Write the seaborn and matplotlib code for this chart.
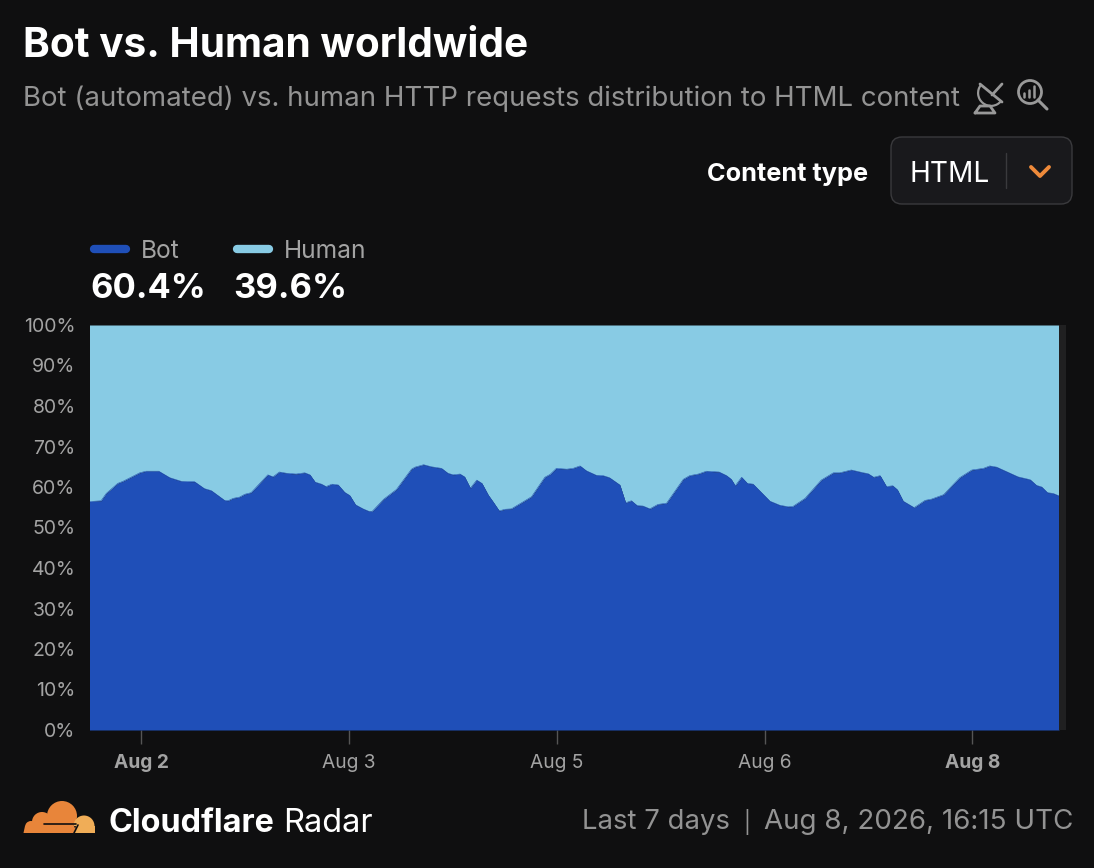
import numpy as np
import pandas as pd
import matplotlib
matplotlib.use("Agg")
import matplotlib.pyplot as plt
from matplotlib.patches import FancyBboxPatch, Circle, Polygon, Wedge
import seaborn as sns

hours = [0,2.0,2.9,4.9,5.8,8.7,9.8,12.0,13.9,15.9,18.2,19.9,21.1,23.4,24.0,24.9,26.0,26.9,28.0,30.9,31.8,32.9,34.1,35.8,37.3,38.2,39.1,40.2,41.0,42.0,43.1,44.2,45.1,46.1,47.4,48.4,49.0,51.0,53.2,54.6,55.8,56.4,57.9,59.2,61.0,62.1,63.0,64.2,65.0,66.0,67.1,68.0,69.1,69.9,71.0,72.0,73.1,75.1,76.6,78.9,79.8,80.9,82.7,83.8,85.0,
         86.1,87.8,89.0,90.1,91.9,92.9,93.9,94.9,95.9,97.1,98.5,100.0,102.9,104.0,105.5,106.9,109.1,110.4,111.2,111.9,113.0,114.0,115.0,117.9,119.6,121.1,121.9,124.0,126.8,128.9,130.0,132.0,134.1,134.9,135.9,137.0,138.1,139.2,140.0,141.0,142.9,144.8,145.9,148.0,150.8,152.9,154.9,156.0,157.2,160.9,163.0,164.1,165.0,166.0,167.0,168.0]
bot = [56.4,56.6,58.4,60.9,61.4,63.5,63.9,63.9,62.3,61.4,61.3,59.6,59.1,56.7,56.6,57.2,57.5,58.2,58.6,63.0,62.5,63.7,63.4,63.2,63.5,63.0,61.2,60.7,60.1,60.7,60.5,58.7,57.9,55.6,54.6,54.0,54.0,57.0,59.4,62.1,64.4,64.9,65.5,65.0,64.6,63.4,63.0,63.2,62.5,59.7,61.7,60.9,58.0,56.4,54.1,54.5,54.6,56.3,57.6,62.4,63.1,64.6,64.4,64.6,65.2,
       64.0,62.9,62.8,62.3,60.5,56.1,56.6,55.4,55.3,54.6,55.7,56.0,61.9,62.8,63.2,63.9,63.7,62.8,61.9,60.3,62.4,60.9,60.7,56.5,55.5,55.1,55.2,57.2,61.7,63.5,63.5,64.2,63.5,63.3,62.4,62.8,60.1,60.3,59.3,56.5,54.9,56.7,57.0,58.1,62.3,64.2,64.6,65.2,64.9,62.5,61.8,60.4,60.0,58.6,58.4,57.8]
tick_labels = ["Aug 2", "Aug 3", "Aug 5", "Aug 6", "Aug 8"]
tick_hours = [9, 45, 81, 117, 153]
bold_ticks = ["Aug 2", "Aug 8"]
y_ticks = list(range(0, 101, 10))
series_names = ["Bot", "Human"]
summary = ["60.4%", "39.6%"]

BG = "#0f0f10"
BLUE = "#1f4fb8"
LIGHT = "#88cbe4"
GREY = "#a3a3a3"
MUTED = "#939393"
W, H = 1094, 868

sns.set_theme(style="dark")
plt.rcParams["font.family"] = ["Inter", "DejaVu Sans"]

fig = plt.figure(figsize=(W/100, H/100), dpi=100, facecolor=BG)
ax = fig.add_axes([89.5/W, 1-730/H, 969.5/W, 405/H], facecolor=BG)

df = pd.DataFrame({"hour": hours, "Bot": bot})
df["Human"] = 100 - df["Bot"]
sns.lineplot(data=df, x="hour", y="Bot", ax=ax, color=BLUE, linewidth=0.4, zorder=3)
ax.fill_between(df["hour"], 0, df["Bot"], color=BLUE, linewidth=0, zorder=2)
ax.fill_between(df["hour"], df["Bot"], df["Bot"] + df["Human"], color=LIGHT, linewidth=0, zorder=1)
ax.set_xlim(0, 168)
ax.set_ylim(0, 100)
ax.set_xlabel("")
ax.set_ylabel("")
ax.grid(False)
for s in ax.spines.values():
    s.set_visible(False)
ax.set_yticks(y_ticks)
ax.set_yticklabels([f"{v}%" for v in y_ticks], color=GREY, fontsize=14)
ax.tick_params(axis="y", length=0, pad=10)
ax.set_xticks(tick_hours)
ax.set_xticklabels(tick_labels, color=GREY, fontsize=13.8)
for lab in ax.get_xticklabels():
    if lab.get_text() in bold_ticks:
        lab.set_fontweight("bold")
ax.tick_params(axis="x", length=10, width=1, color="#555555", pad=7, bottom=True)

# page furniture in pixel coordinates
ui = fig.add_axes([0, 0, 1, 1], facecolor="none", zorder=5)
ui.set_xlim(0, W)
ui.set_ylim(H, 0)
ui.axis("off")

ui.add_patch(plt.Rectangle((1059, 325), 7, 405, facecolor="#202021", edgecolor="none"))

ui.text(23, 46, "Bot vs. Human worldwide", color="white", fontsize=29.2, fontweight="bold", va="center", ha="left")
ui.text(23, 99, "Bot (automated) vs. human HTTP requests distribution to HTML content",
        color=MUTED, fontsize=19.9, va="center", ha="left")
ui.text(868, 174, "Content type", color="white", fontsize=18.2, fontweight="bold", va="center", ha="right")

# dropdown
ui.add_patch(FancyBboxPatch((891, 137), 181, 67, boxstyle="round,pad=0,rounding_size=11",
                            facecolor="#19191c", edgecolor="#3a3a3d", linewidth=1))
ui.text(909, 175, "HTML", color="white", fontsize=20.2, va="center", ha="left")
ui.plot([1006, 1006], [153, 188], color="#3a3a3d", lw=1)
ui.plot([1031, 1040, 1049], [167, 176, 167], color="#ee8a3a", lw=2.8, solid_capstyle="round", solid_joinstyle="round")

# icons
ICON = "#999999"
ui.add_patch(Wedge((991, 93), 14, 39, 219, width=2.2, facecolor=ICON, edgecolor="none"))
ui.plot([980, 1002], [84, 102], color=ICON, lw=2)
ui.plot([992, 1002], [95, 84], color=ICON, lw=2, solid_capstyle="round")
ui.plot([975, 980, 990, 995, 975], [113, 106, 106, 113, 113], color=ICON, lw=2)
ui.add_patch(Circle((1030, 92), 11.5, facecolor="none", edgecolor=ICON, lw=2))
ui.plot([1038, 1047], [100, 109], color=ICON, lw=2.2, solid_capstyle="round")
for bx, bt in zip([1024, 1029, 1034], [93, 90, 86]):
    ui.plot([bx, bx], [97, bt], color=ICON, lw=1.8)

# legend
for x0, colr, name, val in zip([91, 234], [BLUE, LIGHT], series_names, summary):
    ui.plot([x0 + 3, x0 + 35], [249, 249], color=colr, lw=6, solid_capstyle="round")
    ui.text(x0 + 50, 252, name, color=GREY, fontsize=17.7, va="center", ha="left")
    ui.text(x0 - 1, 289, val, color="white", fontsize=24.8, fontweight="bold", va="center", ha="left")

# logo
ORANGE = "#e8853a"
for cx, cy, r in [(62, 816, 15), (42, 822, 10), (31, 827, 6)]:
    ui.add_patch(Circle((cx, cy), r, facecolor=ORANGE, edgecolor="none"))
ui.add_patch(Polygon([(23.5, 833), (25, 826), (74, 826), (77, 833)], facecolor=ORANGE, edgecolor="none"))
ui.add_patch(Wedge((84, 826), 10.5, 180, 360, facecolor="#f0ad57", edgecolor="none"))
ui.add_patch(Polygon([(74, 833), (76, 826), (95, 826), (95, 833)], facecolor="#f0ad57", edgecolor="none"))
ui.plot([44, 76], [824, 824], color=BG, lw=1.2)
ui.plot([74, 78], [833, 825], color=BG, lw=1.2)

ui.text(109, 823, "Cloudflare", color="white", fontsize=23.3, fontweight="bold", va="center", ha="left")
ui.text(283, 823, "Radar", color="white", fontsize=23.5, va="center", ha="left")
ui.text(582, 822, "Last 7 days", color=MUTED, fontsize=19.8, va="center", ha="left")
ui.text(747, 822, "|", color=MUTED, fontsize=15, va="center", ha="center")
ui.text(1073, 822, "Aug 8, 2026, 16:15 UTC", color=MUTED, fontsize=20, va="center", ha="right")

fig.savefig("out.png", dpi=100, facecolor=BG)
